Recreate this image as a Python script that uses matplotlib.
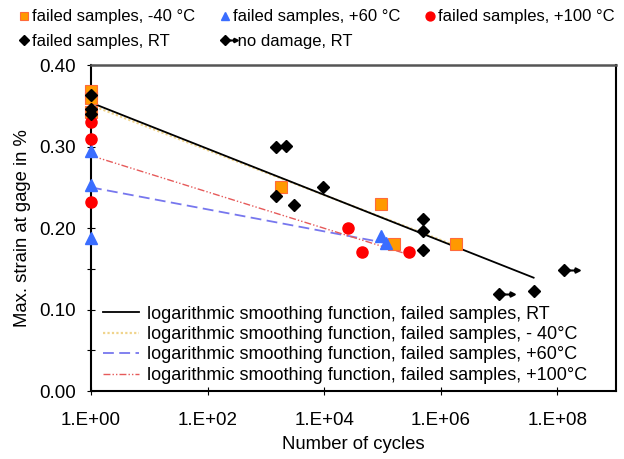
import numpy as np
import matplotlib
matplotlib.use('Agg')
import matplotlib.pyplot as plt
from matplotlib.path import Path
from matplotlib.ticker import FixedLocator, MultipleLocator, FuncFormatter, FormatStrFormatter

plt.rcParams['font.family'] = ['Liberation Sans', 'DejaVu Sans']

# Datos (ciclos, deformacion max. en %)
cyc_m40 = [1, 1, 1, 1.84e3, 9.3e4, 1.57e5, 1.85e6]
strain_m40 = [0.368, 0.360, 0.343, 0.250, 0.230, 0.181, 0.181]

cyc_p60 = [1, 1, 1, 9.3e4, 1.13e5]
strain_p60 = [0.295, 0.253, 0.188, 0.190, 0.182]

cyc_p100 = [1, 1, 1, 2.6e4, 4.4e4, 2.84e5]
strain_p100 = [0.330, 0.310, 0.232, 0.200, 0.171, 0.171]

cyc_rt = [1, 1, 1, 1.49e3, 2.2e3, 1.49e3, 2.99e3, 9.7e3, 5.0e5, 5.0e5, 5.0e5, 3.9e7]
strain_rt = [0.364, 0.346, 0.340, 0.299, 0.301, 0.239, 0.228, 0.250, 0.211, 0.197, 0.173, 0.123]

cyc_nd = [9.8e6, 1.3e8]
strain_nd = [0.119, 0.148]

# ajustes logaritmicos: y = a + b*log10(N), hasta N_max
fit_rt = (0.354, -0.0283, 3.9e7)
fit_m40 = (0.351, -0.0276, 1.85e6)
fit_p60 = (0.250, -0.0135, 1.13e5)
fit_p100 = (0.289, -0.0223, 2.84e5)

fit_labels = ['logarithmic smoothing function, failed samples, RT',
              'logarithmic smoothing function, failed samples, - 40°C',
              'logarithmic smoothing function, failed samples, +60°C',
              'logarithmic smoothing function, failed samples, +100°C']

fig = plt.figure(figsize=(6.24, 4.59), dpi=100)
ax = fig.add_axes([0.1458, 0.148, 0.841, 0.710])

def fit_line(fit, **kw):
    a, b, nmax = fit
    n = np.array([1.0, nmax])
    return ax.plot(n, a + b*np.log10(n), **kw)[0]

l_rt = fit_line(fit_rt, color='black', lw=1.3, zorder=3)
l_m40 = fit_line(fit_m40, color='#f0d48c', lw=1.6, ls=(0, (1, 1)), zorder=2)
l_p60 = fit_line(fit_p60, color='#7777ee', lw=1.3, ls=(0, (6, 3)), zorder=2)
l_p100 = fit_line(fit_p100, color='#e65a5a', lw=1.0, ls=(0, (5, 1.5, 1, 1.5, 1, 1.5)), zorder=2)

# marcas
s_m40, = ax.plot(cyc_m40, strain_m40, 's', ms=8, mfc='#ff9900', mec='#ff6a3a', mew=0.8, ls='none', zorder=4, clip_on=False)
s_p60, = ax.plot(cyc_p60, strain_p60, '^', ms=8, mfc='#3a6dff', mec='#3a6dff', ls='none', zorder=4, clip_on=False)
s_p100, = ax.plot(cyc_p100, strain_p100, 'o', ms=8, mfc='#ff0000', mec='#ff0000', ls='none', zorder=4, clip_on=False)
s_rt, = ax.plot(cyc_rt, strain_rt, 'D', ms=6, mfc='black', mec='black', ls='none', zorder=5, clip_on=False)

# flecha de "no damage"
arrow = Path([(0, 0), (0.8, 0), (1, 0), (0.72, 0.14), (0.72, -0.14), (1, 0)],
             [Path.MOVETO, Path.LINETO, Path.MOVETO, Path.LINETO, Path.LINETO, Path.CLOSEPOLY])
s_nd_a, = ax.plot(cyc_nd, strain_nd, marker=arrow, ms=22, mfc='black', mec='black', mew=1.5, ls='none', zorder=5)
s_nd_d, = ax.plot(cyc_nd, strain_nd, 'D', ms=6, mfc='black', mec='black', ls='none', zorder=5)

ax.set_xscale('log')
ax.set_xlim(1, 1e9)
ax.set_ylim(0, 0.40)
ax.xaxis.set_major_locator(FixedLocator([1, 1e2, 1e4, 1e6, 1e8]))
ax.xaxis.set_minor_locator(FixedLocator([]))
ax.xaxis.set_major_formatter(FuncFormatter(lambda v, p: '1.E+%02d' % int(round(np.log10(v)))))
ax.yaxis.set_major_locator(MultipleLocator(0.1))
ax.yaxis.set_minor_locator(MultipleLocator(0.05))
ax.yaxis.set_major_formatter(FormatStrFormatter('%.2f'))
ax.tick_params(which='both', direction='inout', length=6, width=0.8, labelsize=13.5)
ax.tick_params(axis='x', pad=12)
ax.tick_params(axis='y', pad=8)

for s in ['left', 'bottom', 'right']:
    ax.spines[s].set_linewidth(1.5)
    ax.spines[s].set_color('black')
ax.spines['top'].set_linewidth(1.8)
ax.spines['top'].set_color('#555555')

ax.set_xlabel('Number of cycles', fontsize=13.3, labelpad=5)
ax.set_ylabel('Max. strain at gage in %', fontsize=13.3, labelpad=6)

ax.legend([l_rt, l_m40, l_p60, l_p100], fit_labels, loc='lower left', frameon=False,
          fontsize=13, handlelength=2.0, handletextpad=0.45, labelspacing=0.19,
          borderpad=0.4, bbox_to_anchor=(0.009, 0.0), borderaxespad=0.0)

fig.legend([s_m40, s_rt, s_p60, (s_nd_a, s_nd_d), s_p100],
           ['failed samples, -40 °C', 'failed samples, RT', 'failed samples, +60 °C',
            ' no damage, RT', 'failed samples, +100 °C'],
           ncol=3, loc='upper left', bbox_to_anchor=(0.008, 1.012), frameon=False,
           fontsize=12, handlelength=0.5, handletextpad=0.25, columnspacing=1.5,
           labelspacing=0.55, markerscale=0.8)

plt.savefig('out.png', dpi=100)
